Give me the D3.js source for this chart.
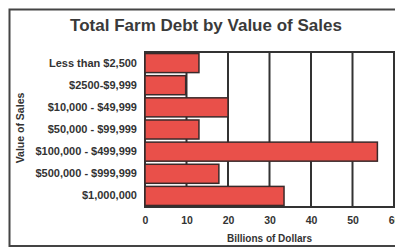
<!DOCTYPE html>
<html>
<head>
<meta charset="utf-8">
<script src="https://cdn.jsdelivr.net/npm/d3@7"></script>
<style>
  body { margin: 0; background: #fff; }
  svg { display: block; font-family: "Liberation Sans", Arial, sans-serif; }
</style>
</head>
<body>
<svg id="chart" width="395" height="247"></svg>
<script>
// Data
const categories = [
    "Less than $2,500",
    "$2500-$9,999",
    "$10,000 - $49,999",
    "$50,000 - $99,999",
    "$100,000 - $499,999",
    "$500,000 - $999,999",
    "$1,000,000"
];
const debt = [13, 9.8, 20, 13, 56, 17.8, 33.5];
const xTicks = [0, 10, 20, 30, 40, 50, 60];

const svg = d3.select("#chart");
const margin = { top: 52, right: 1, bottom: 40, left: 145 };
const width = 395 - margin.left - margin.right;
const height = 247 - margin.top - margin.bottom;
const ink = "#333";

// Outer frame
svg.append("rect")
    .attr("x", 9.5).attr("y", 9.5)
    .attr("width", 400).attr("height", 236.5)
    .attr("fill", "none")
    .attr("stroke", "#444")
    .attr("stroke-width", 2);

// Title
svg.append("text")
    .attr("x", 206).attr("y", 31)
    .attr("text-anchor", "middle")
    .attr("font-size", 17)
    .attr("font-weight", "bold")
    .attr("fill", "#3a3a3a")
    .text("Total Farm Debt by Value of Sales");

const x = d3.scaleLinear().domain([0, 60]).range([0, 249]);
const y = d3.scaleBand().domain(categories).range([0, height]).paddingInner(0.14).paddingOuter(0.07);

const g = svg.append("g").attr("transform", `translate(${margin.left},${margin.top})`);

// Plot border + gridlines
g.append("rect")
    .attr("width", x(60)).attr("height", height)
    .attr("fill", "#fff")
    .attr("stroke", ink)
    .attr("stroke-width", 2);

g.selectAll(".grid")
    .data(xTicks.slice(1, -1))
    .enter().append("line")
    .attr("class", "grid")
    .attr("x1", d => x(d)).attr("x2", d => x(d))
    .attr("y1", 0).attr("y2", height)
    .attr("stroke", ink)
    .attr("stroke-width", 2);

// Bars
g.selectAll(".bar")
    .data(debt)
    .enter().append("rect")
    .attr("class", "bar")
    .attr("x", 0)
    .attr("y", (d, i) => y(categories[i]))
    .attr("width", d => x(d))
    .attr("height", y.bandwidth())
    .attr("fill", "#e9504a")
    .attr("stroke", "#3a2a2a")
    .attr("stroke-width", 1.5);

// X axis
const xAxis = g.append("g")
    .attr("transform", `translate(0,${height})`)
    .call(d3.axisBottom(x).tickValues(xTicks).tickSize(0).tickPadding(10));
xAxis.select(".domain").remove();
xAxis.selectAll("text")
    .attr("font-size", 10.5)
    .attr("font-weight", "bold")
    .attr("fill", ink)
    .attr("font-family", "Liberation Sans, Arial, sans-serif");

// Y axis
const yAxis = g.append("g")
    .call(d3.axisLeft(y).tickSize(0).tickPadding(8));
yAxis.select(".domain").remove();
yAxis.selectAll("text")
    .attr("font-size", 11)
    .attr("font-weight", "bold")
    .attr("fill", ink)
    .attr("font-family", "Liberation Sans, Arial, sans-serif");

// Axis titles
svg.append("text")
    .attr("x", margin.left + x(30)).attr("y", 242)
    .attr("text-anchor", "middle")
    .attr("font-size", 10)
    .attr("font-weight", "bold")
    .attr("fill", ink)
    .text("Billions of Dollars");

svg.append("text")
    .attr("transform", "translate(24,128) rotate(-90)")
    .attr("text-anchor", "middle")
    .attr("font-size", 10.5)
    .attr("font-weight", "bold")
    .attr("fill", ink)
    .text("Value of Sales");
</script>
</body>
</html>
